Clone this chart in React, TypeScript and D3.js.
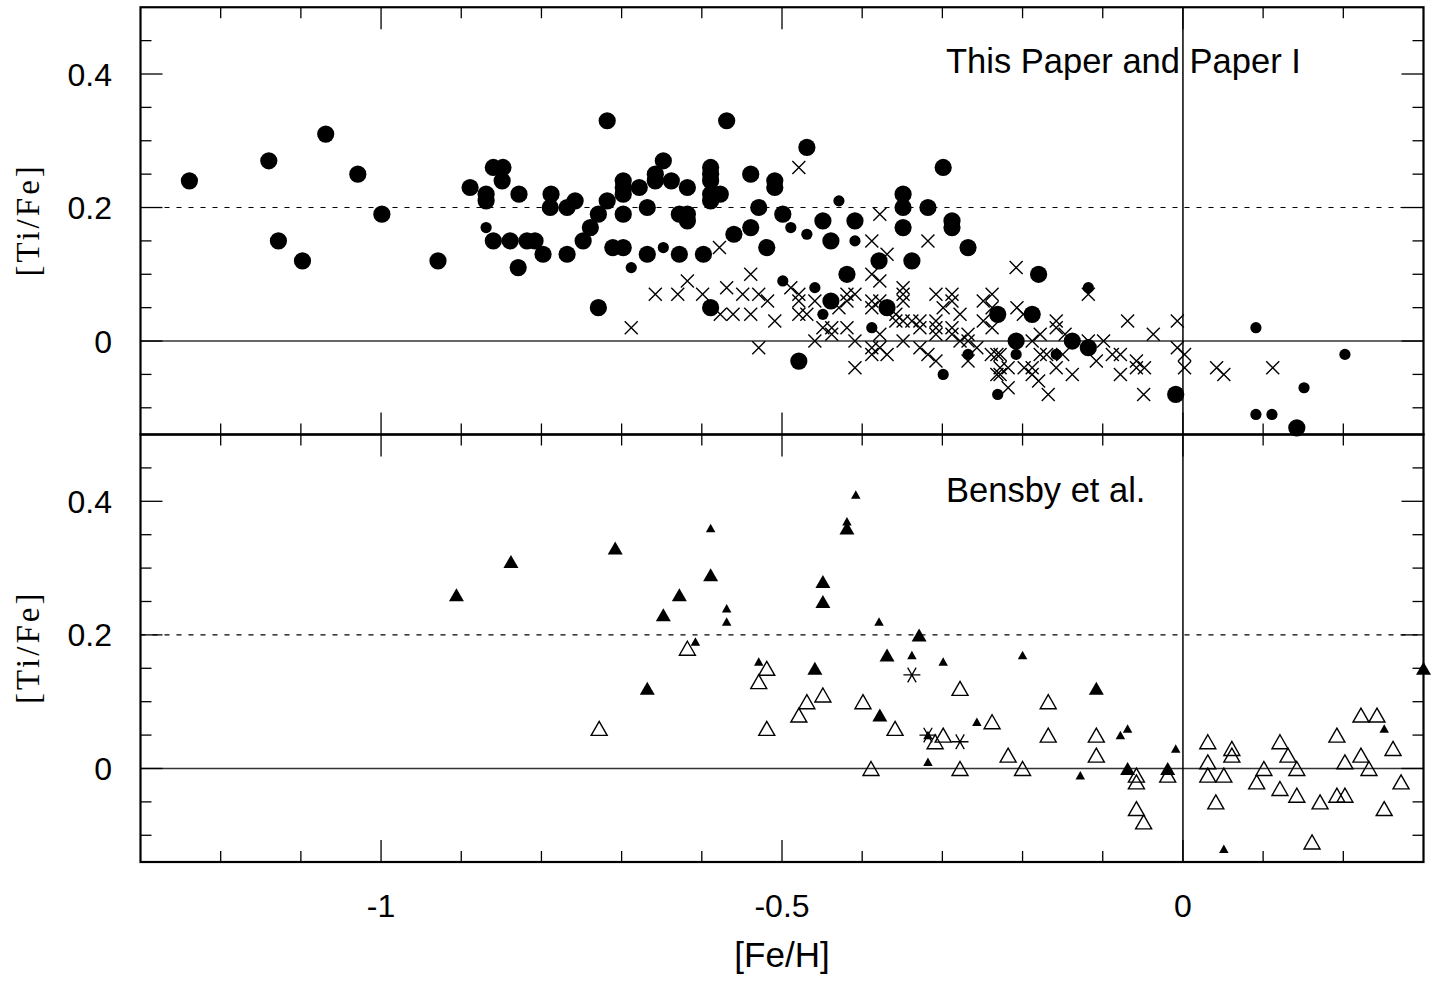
import React from "react";
import * as d3 from "d3";

// ---------- data ----------
// Top panel: This Paper and Paper I
const topBigCircles: [number, number][] = [
  [-1.239, 0.24], [-1.14, 0.27], [-1.069, 0.31], [-1.029, 0.25], [-0.999, 0.19],
  [-1.128, 0.15], [-1.098, 0.12], [-0.929, 0.12], [-0.889, 0.23], [-0.869, 0.22],
  [-0.869, 0.21], [-0.86, 0.26], [-0.848, 0.26], [-0.849, 0.24], [-0.828, 0.22],
  [-0.86, 0.15], [-0.839, 0.15], [-0.818, 0.15], [-0.808, 0.15], [-0.798, 0.13],
  [-0.829, 0.11], [-0.788, 0.22], [-0.789, 0.2], [-0.768, 0.2], [-0.758, 0.21],
  [-0.768, 0.13], [-0.748, 0.15], [-0.739, 0.17], [-0.729, 0.19], [-0.718, 0.21],
  [-0.718, 0.33], [-0.698, 0.24], [-0.698, 0.23], [-0.698, 0.22], [-0.698, 0.19],
  [-0.711, 0.14], [-0.698, 0.14], [-0.678, 0.23], [-0.668, 0.2], [-0.668, 0.13],
  [-0.658, 0.25], [-0.658, 0.24], [-0.648, 0.27], [-0.638, 0.24], [-0.628, 0.13],
  [-0.628, 0.19], [-0.618, 0.19], [-0.618, 0.18], [-0.618, 0.23], [-0.598, 0.13],
  [-0.589, 0.26], [-0.589, 0.25], [-0.589, 0.24], [-0.589, 0.22], [-0.589, 0.21],
  [-0.577, 0.22], [-0.569, 0.33], [-0.56, 0.16], [-0.729, 0.05], [-0.589, 0.05],
  [-0.539, 0.25], [-0.509, 0.24], [-0.509, 0.23], [-0.529, 0.2], [-0.499, 0.19],
  [-0.539, 0.17], [-0.519, 0.14], [-0.469, 0.29], [-0.449, 0.18], [-0.409, 0.18],
  [-0.439, 0.15], [-0.379, 0.12], [-0.419, 0.1], [-0.349, 0.22], [-0.349, 0.2],
  [-0.349, 0.17], [-0.318, 0.2], [-0.299, 0.26], [-0.288, 0.18], [-0.288, 0.17],
  [-0.338, 0.12], [-0.268, 0.14], [-0.439, 0.06], [-0.369, 0.05], [-0.479, -0.03],
  [-0.231, 0.04], [-0.18, 0.1], [-0.188, 0.04], [-0.208, 0.0], [-0.138, 0.0],
  [-0.118, -0.01], [-0.009, -0.08], [0.142, -0.13],
];

const topSmallCircles: [number, number][] = [
  [-0.869, 0.17], [-0.688, 0.11], [-0.648, 0.14], [-0.489, 0.17], [-0.469, 0.16],
  [-0.429, 0.21], [-0.409, 0.15], [-0.499, 0.09], [-0.459, 0.08], [-0.449, 0.04],
  [-0.388, 0.02], [-0.268, -0.02], [-0.299, -0.05], [-0.231, -0.08], [-0.118, 0.08],
  [-0.208, -0.02], [-0.158, -0.02], [0.091, 0.02], [0.202, -0.02], [0.151, -0.07],
  [0.091, -0.11], [0.111, -0.11],
];

const topCrosses: [number, number][] = [
  [-0.578, 0.14], [-0.618, 0.09], [-0.658, 0.07], [-0.63, 0.07], [-0.599, 0.07],
  [-0.569, 0.08], [-0.688, 0.02], [-0.577, 0.04], [-0.561, 0.04], [-0.479, 0.26],
  [-0.539, 0.1], [-0.378, 0.19], [-0.388, 0.15], [-0.318, 0.15], [-0.369, 0.13],
  [-0.388, 0.1], [-0.378, 0.09], [-0.549, 0.07], [-0.529, 0.07], [-0.518, 0.06],
  [-0.539, 0.04], [-0.509, 0.03], [-0.529, -0.01], [-0.489, 0.08], [-0.479, 0.07],
  [-0.479, 0.06], [-0.469, 0.04], [-0.479, 0.04], [-0.459, 0.06], [-0.459, 0.0],
  [-0.449, 0.02], [-0.438, 0.02], [-0.438, 0.01], [-0.419, 0.07], [-0.409, 0.07],
  [-0.419, 0.06], [-0.429, 0.05], [-0.419, 0.02], [-0.409, 0.0], [-0.409, -0.04],
  [-0.388, 0.06], [-0.388, 0.05], [-0.378, 0.06], [-0.388, -0.01], [-0.388, -0.02],
  [-0.378, -0.01], [-0.369, -0.02], [-0.378, 0.01], [-0.358, 0.04], [-0.358, 0.03],
  [-0.349, 0.03], [-0.349, 0.08], [-0.349, 0.07], [-0.349, 0.06], [-0.338, 0.03],
  [-0.328, 0.03], [-0.328, 0.02], [-0.349, 0.0], [-0.328, -0.01], [-0.318, -0.02],
  [-0.308, -0.03], [-0.308, 0.07], [-0.308, 0.03], [-0.308, 0.02], [-0.308, 0.01],
  [-0.288, 0.07], [-0.288, 0.06], [-0.299, 0.05], [-0.288, 0.02], [-0.288, 0.01],
  [-0.278, 0.04], [-0.278, 0.0], [-0.268, 0.01], [-0.268, 0.0], [-0.257, -0.01],
  [-0.268, -0.03], [-0.249, 0.06], [-0.238, 0.07], [-0.238, 0.05], [-0.249, 0.03],
  [-0.238, 0.02], [-0.232, -0.02], [-0.232, -0.05], [-0.208, 0.11], [-0.118, 0.07],
  [-0.069, 0.03], [-0.037, 0.01], [-0.007, 0.03], [-0.007, -0.01], [0.002, -0.02],
  [0.002, -0.04], [0.042, -0.04], [0.051, -0.05], [0.112, -0.04], [-0.049, -0.08],
  [-0.099, 0.0], [-0.088, -0.02], [-0.078, -0.02], [-0.078, -0.05], [-0.058, -0.03],
  [-0.058, -0.04], [-0.048, -0.04], [-0.108, -0.03], [-0.138, -0.05], [-0.158, -0.04],
  [-0.168, -0.08], [-0.18, -0.06], [-0.188, -0.04], [-0.188, -0.05], [-0.198, -0.04],
  [-0.218, -0.07], [-0.228, -0.05], [-0.218, -0.04], [-0.239, -0.02], [-0.228, -0.02],
  [-0.178, 0.01], [-0.158, 0.03], [-0.158, 0.02], [-0.147, 0.01], [-0.15, -0.02],
  [-0.17, -0.02], [-0.207, 0.05], [-0.199, 0.04], [-0.188, 0.0], [-0.178, -0.02],
  [-0.228, -0.04], [-0.118, 0.0],
];

// Bottom panel: Bensby et al.
const botBigTriangles: [number, number][] = [
  [-0.906, 0.26], [-0.838, 0.31], [-0.708, 0.33], [-0.628, 0.26], [-0.648, 0.23],
  [-0.589, 0.29], [-0.668, 0.12], [-0.449, 0.28], [-0.449, 0.25], [-0.419, 0.36],
  [-0.459, 0.15], [-0.329, 0.2], [-0.369, 0.17], [-0.378, 0.08], [-0.108, 0.12],
  [-0.069, 0.0], [-0.019, 0.0], [0.3, 0.15],
];

const botSmallTriangles: [number, number][] = [
  [-0.589, 0.36], [-0.569, 0.24], [-0.569, 0.22], [-0.608, 0.19], [-0.529, 0.16],
  [-0.408, 0.41], [-0.419, 0.37], [-0.379, 0.22], [-0.338, 0.17], [-0.299, 0.16],
  [-0.2, 0.17], [-0.318, 0.01], [-0.257, 0.07], [-0.128, -0.01], [-0.078, 0.05],
  [-0.069, 0.06], [-0.009, 0.03], [0.051, -0.12], [0.251, 0.06], [-0.318, 0.05],
];

const botOpenTriangles: [number, number][] = [
  [-0.728, 0.06], [-0.618, 0.18], [-0.519, 0.15], [-0.529, 0.13], [-0.519, 0.06],
  [-0.479, 0.08], [-0.469, 0.1], [-0.449, 0.11], [-0.399, 0.1], [-0.389, 0.0],
  [-0.359, 0.06], [-0.299, 0.05], [-0.309, 0.04], [-0.278, 0.12], [-0.278, 0.0],
  [-0.238, 0.07], [-0.218, 0.02], [-0.2, 0.0], [-0.168, 0.1], [-0.168, 0.05],
  [-0.108, 0.05], [-0.108, 0.02], [-0.058, -0.01], [-0.058, -0.02], [-0.058, -0.06],
  [-0.049, -0.08], [-0.019, -0.01], [0.031, 0.04], [0.031, 0.01], [0.031, -0.01],
  [0.051, -0.01], [0.041, -0.05], [0.061, 0.03], [0.061, 0.02], [0.101, 0.0],
  [0.092, -0.02], [0.121, 0.04], [0.131, 0.02], [0.142, 0.0], [0.121, -0.03],
  [0.142, -0.04], [0.171, -0.05], [0.161, -0.11], [0.192, 0.05], [0.202, 0.01],
  [0.192, -0.04], [0.202, -0.04], [0.222, 0.08], [0.242, 0.08], [0.222, 0.02],
  [0.232, 0.0], [0.262, 0.03], [0.251, -0.06], [0.272, -0.02],
];

const botAsterisks: [number, number][] = [
  [-0.338, 0.14], [-0.318, 0.05], [-0.278, 0.04],
];

const xTickLabels = [-1, -0.5, 0];
const yTickLabels = [0, 0.2, 0.4];
const panelTitles = ["This Paper and Paper I", "Bensby et al."];

// ---------- layout ----------
const W = 1437;
const H = 983;
const X0 = 140.5;
const X1 = 1423.5;
const PANELS = [
  { top: 7.25, bottom: 434.5 },
  { top: 434.5, bottom: 862 },
];
const SANS = "'Liberation Sans', Arial, Helvetica, sans-serif";
const SERIF = "'Liberation Serif', 'Times New Roman', serif";

const x = d3.scaleLinear().domain([-1.3, 0.3]).range([X0, X1]);

const xMinor = d3.range(-12, 3).map((i) => i / 10);
const yMinor = d3.range(-2, 10).map((i) => i / 20).filter((v) => v > -0.14 && v < 0.5);

const isMult = (v: number, m: number) => Math.abs(v / m - Math.round(v / m)) < 1e-6;

function triPath(cx: number, cy: number, w: number, h: number) {
  return `M${cx},${cy - h / 2}L${cx + w / 2},${cy + h / 2}L${cx - w / 2},${cy + h / 2}Z`;
}

function Panel({ idx }: { idx: number }) {
  const { top, bottom } = PANELS[idx];
  const y = d3.scaleLinear().domain([-0.14, 0.5]).range([bottom, top]);
  const els: React.ReactNode[] = [];

  // reference lines
  els.push(
    <line key="dash" x1={X0} x2={X1} y1={y(0.2)} y2={y(0.2)} stroke="#000" strokeWidth={1.2} strokeDasharray="5,7" />
  );
  els.push(
    <line key="zero" x1={X0} x2={X1} y1={y(0)} y2={y(0)} stroke="#333" strokeWidth={1.6} />
  );

  // ticks
  xMinor.forEach((v, i) => {
    const L = isMult(v, 0.5) ? 22 : 11;
    els.push(<line key={`xtb${i}`} x1={x(v)} x2={x(v)} y1={bottom} y2={bottom - L} stroke="#000" strokeWidth={1.3} />);
    els.push(<line key={`xtt${i}`} x1={x(v)} x2={x(v)} y1={top} y2={top + L} stroke="#000" strokeWidth={1.3} />);
  });
  yMinor.forEach((v, i) => {
    const L = isMult(v, 0.2) ? 22 : 11;
    els.push(<line key={`ytl${i}`} x1={X0} x2={X0 + L} y1={y(v)} y2={y(v)} stroke="#000" strokeWidth={1.3} />);
    els.push(<line key={`ytr${i}`} x1={X1} x2={X1 - L} y1={y(v)} y2={y(v)} stroke="#000" strokeWidth={1.3} />);
  });

  // y tick labels
  yTickLabels.forEach((v) => {
    els.push(
      <text key={`yl${v}`} x={112} y={y(v) + 11.5} textAnchor="end" fontFamily={SANS} fontSize={32} fill="#000">
        {String(v)}
      </text>
    );
  });

  // y axis label
  const cy = (top + bottom) / 2 - 1;
  els.push(
    <text
      key="ylab"
      transform={`translate(28,${cy}) rotate(-90)`}
      textAnchor="middle"
      dominantBaseline="central"
      fontFamily={SERIF}
      fontSize={33}
      letterSpacing={3}
      fill="#000"
    >
      [Ti/Fe]
    </text>
  );

  // title
  els.push(
    <text key="title" x={946} y={idx === 0 ? 73 : 502} fontFamily={SANS} fontSize={34.5} fill="#000">
      {panelTitles[idx]}
    </text>
  );

  // markers
  if (idx === 0) {
    topCrosses.forEach(([a, b], i) => {
      const cx = x(a), cyy = y(b), s = 6.5;
      els.push(
        <path key={`cr${i}`} d={`M${cx - s},${cyy - s}L${cx + s},${cyy + s}M${cx - s},${cyy + s}L${cx + s},${cyy - s}`} stroke="#000" strokeWidth={1.4} fill="none" />
      );
    });
    topSmallCircles.forEach(([a, b], i) => {
      els.push(<circle key={`sc${i}`} cx={x(a)} cy={y(b)} r={5.6} fill="#000" />);
    });
    topBigCircles.forEach(([a, b], i) => {
      els.push(<circle key={`bc${i}`} cx={x(a)} cy={y(b)} r={8.6} fill="#000" />);
    });
  } else {
    botOpenTriangles.forEach(([a, b], i) => {
      els.push(<path key={`ot${i}`} d={triPath(x(a), y(b), 16, 14)} fill="none" stroke="#000" strokeWidth={1.4} />);
    });
    botBigTriangles.forEach(([a, b], i) => {
      els.push(<path key={`bt${i}`} d={triPath(x(a), y(b), 15, 13)} fill="#000" />);
    });
    botSmallTriangles.forEach(([a, b], i) => {
      els.push(<path key={`st${i}`} d={triPath(x(a), y(b), 9.5, 8.5)} fill="#000" />);
    });
    botAsterisks.forEach(([a, b], i) => {
      const cx = x(a), cyy = y(b), s = 8.5;
      const dx = s * Math.cos(Math.PI / 3), dy = s * Math.sin(Math.PI / 3);
      els.push(
        <path
          key={`as${i}`}
          d={`M${cx - s},${cyy}L${cx + s},${cyy}M${cx - dx},${cyy - dy}L${cx + dx},${cyy + dy}M${cx - dx},${cyy + dy}L${cx + dx},${cyy - dy}`}
          stroke="#000"
          strokeWidth={1.3}
          fill="none"
        />
      );
    });
  }

  // frame
  els.push(
    <rect key="frame" x={X0} y={top} width={X1 - X0} height={bottom - top} fill="none" stroke="#000" strokeWidth={2.2} />
  );

  return <g>{els}</g>;
}

export default function App() {
  const yb = PANELS[1].bottom;
  return (
    <svg width={W} height={H} style={{ display: "block", position: "absolute", left: 0, top: 0, background: "#fff" }}>
      <rect x={0} y={0} width={W} height={H} fill="#fff" />
      <Panel idx={0} />
      <Panel idx={1} />
      {/* vertical line at [Fe/H] = 0 across both panels */}
      <line x1={x(0)} x2={x(0)} y1={PANELS[0].top} y2={yb} stroke="#000" strokeWidth={1.5} />
      {xTickLabels.map((v) => (
        <text key={`xl${v}`} x={x(v)} y={917} textAnchor="middle" fontFamily={SANS} fontSize={32} fill="#000">
          {String(v)}
        </text>
      ))}
      <text x={x(-0.5)} y={967} textAnchor="middle" fontFamily={SANS} fontSize={35} fill="#000">
        [Fe/H]
      </text>
    </svg>
  );
}
